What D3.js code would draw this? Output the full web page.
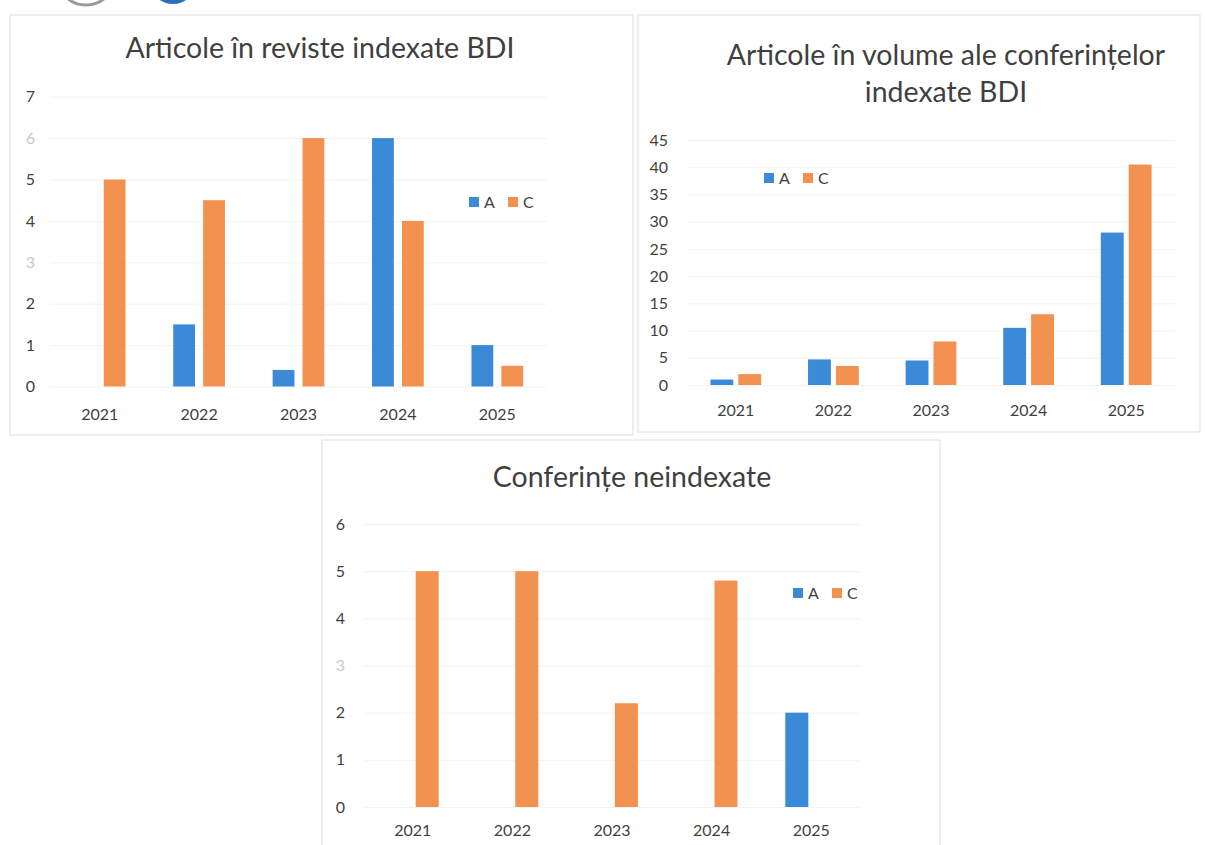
<!DOCTYPE html>
<html>
<head>
<meta charset="utf-8">
<script src="https://cdn.jsdelivr.net/npm/d3@7"></script>
<style>
    body { margin: 0; background: #fff; }
    svg { display: block; font-family: Lato, "Open Sans", sans-serif; }
</style>
</head>
<body>
<svg id="chart" width="1206" height="845"></svg>
<script>
'use strict';

// data
var years = ['2021', '2022', '2023', '2024', '2025'];
var seriesNames = ['A', 'C'];

var revisteA = [0, 1.5, 0.4, 6, 1];
var revisteC = [5, 4.5, 6, 4, 0.5];

var volumeA = [1, 4.7, 4.5, 10.5, 28];
var volumeC = [2, 3.5, 8, 13, 40.5];

var neindexA = [0, 0, 0, 0, 2];
var neindexC = [5, 5, 2.2, 4.8, 0];

var ticksReviste = [0, 1, 2, 3, 4, 5, 6, 7];
var ticksVolume = [0, 5, 10, 15, 20, 25, 30, 35, 40, 45];
var ticksNeindex = [0, 1, 2, 3, 4, 5, 6];

var colors = { A: '#3b8ad8', C: '#f39150' };
var textColor = '#3f3f3f';

var svg = d3.select('#chart');

// bits of the logo cut off at the top of the scan
svg.append('ellipse').attr('cx', 86).attr('cy', -17).attr('rx', 26).attr('ry', 22)
    .style('fill', 'none').style('stroke', '#9a9a9a').style('stroke-width', 3);
svg.append('ellipse').attr('cx', 173).attr('cy', -16).attr('rx', 22).attr('ry', 20)
    .style('fill', '#2f6fb5');

var drawChart = function(cfg) {

    var g = svg.append('g');

    // faint frame of the chart area
    g.append('rect')
        .attr('x', cfg.frame[0]).attr('y', cfg.frame[1])
        .attr('width', cfg.frame[2]).attr('height', cfg.frame[3])
        .style('fill', 'none').style('stroke', '#e9e9e9').style('stroke-width', 1.5);

    cfg.title.forEach(function(line, i) {
        g.append('text')
            .attr('x', cfg.titleX)
            .attr('y', cfg.titleY + i * 37)
            .attr('text-anchor', 'middle')
            .style('font-size', '28.5px')
            .style('fill', textColor)
            .text(line);
    });

    var x0 = d3.scaleBand()
        .domain(years)
        .range([cfg.left, cfg.right])
        .paddingInner(cfg.groupPad)
        .paddingOuter(cfg.groupPad / 2);

    var x1 = d3.scaleBand()
        .domain(seriesNames)
        .range([0, x0.bandwidth()])
        .paddingInner(cfg.barPad);

    var y = d3.scaleLinear()
        .domain([0, d3.max(cfg.ticks)])
        .range([cfg.bottom, cfg.top]);

    // gridlines
    var yAxis = d3.axisLeft(y)
        .tickValues(cfg.ticks)
        .tickFormat(d3.format('d'))
        .tickSize(-(cfg.right - cfg.left))
        .tickPadding(cfg.left - cfg.labelX);

    var ya = g.append('g')
        .attr('transform', 'translate(' + cfg.left + ',0)')
        .call(yAxis);
    ya.select('.domain').remove();
    ya.selectAll('.tick line').style('stroke', '#f3f3f3');
    ya.selectAll('.tick text')
        .style('font-size', '16px')
        .style('font-family', 'Lato, sans-serif')
        .style('fill', function(d) {
            return cfg.faint.indexOf(d) > -1 ? '#c9c9c9' : textColor;
        });

    var xAxis = d3.axisBottom(x0).tickSize(0).tickPadding(cfg.yearPad);
    var xa = g.append('g')
        .attr('transform', 'translate(0,' + cfg.bottom + ')')
        .call(xAxis);
    xa.select('.domain').remove();
    xa.selectAll('.tick text')
        .style('font-size', '16px')
        .style('font-family', 'Lato, sans-serif')
        .style('fill', textColor);

    var rows = years.map(function(year, i) {
        return {
            year: year,
            values: seriesNames.map(function(key) {
                return { key: key, value: cfg.values[key][i] };
            })
        };
    });

    var groups = g.selectAll('.group')
        .data(rows)
        .enter().append('g')
        .attr('class', 'group')
        .attr('transform', function(d) { return 'translate(' + x0(d.year) + ',0)'; });

    groups.selectAll('rect')
        .data(function(d) { return d.values; })
        .enter().append('rect')
        .attr('x', function(d) { return x1(d.key); })
        .attr('y', function(d) { return y(d.value); })
        .attr('width', x1.bandwidth())
        .attr('height', function(d) { return y(0) - y(d.value); })
        .style('fill', function(d) { return colors[d.key]; });

    // legend
    var legend = g.append('g')
        .attr('transform', 'translate(' + cfg.legend[0] + ',' + cfg.legend[1] + ')');

    seriesNames.forEach(function(key, i) {
        legend.append('rect')
            .attr('x', i * 39)
            .attr('y', -5)
            .attr('width', 10)
            .attr('height', 10)
            .style('fill', colors[key]);
        legend.append('text')
            .attr('x', i * 39 + 15)
            .attr('y', 6)
            .style('font-size', '16px')
            .style('fill', textColor)
            .text(key);
    });
};

drawChart({
    title: ['Articole în reviste indexate BDI'],
    titleX: 320, titleY: 58,
    frame: [10, 15, 623, 420],
    left: 50, right: 547, top: 96.7, bottom: 386.5,
    labelX: 35, yearPad: 22,
    groupPad: 0.48, barPad: 0.27,
    ticks: ticksReviste, faint: [3, 6],
    values: { A: revisteA, C: revisteC },
    legend: [469, 202]
});

drawChart({
    title: ['Articole în volume ale conferințelor', 'indexate BDI'],
    titleX: 946, titleY: 65,
    frame: [638, 15, 562, 417],
    left: 687, right: 1175, top: 140, bottom: 385,
    labelX: 668, yearPad: 20,
    groupPad: 0.48, barPad: 0.18,
    ticks: ticksVolume, faint: [],
    values: { A: volumeA, C: volumeC },
    legend: [764, 178]
});

drawChart({
    title: ['Conferințe neindexate'],
    titleX: 632, titleY: 487,
    frame: [322, 440, 618, 410],
    left: 363, right: 861, top: 524, bottom: 807,
    labelX: 345, yearPad: 18,
    groupPad: 0.48, barPad: 0.2,
    ticks: ticksNeindex, faint: [3],
    values: { A: neindexA, C: neindexC },
    legend: [793, 593]
});
</script>
</body>
</html>
